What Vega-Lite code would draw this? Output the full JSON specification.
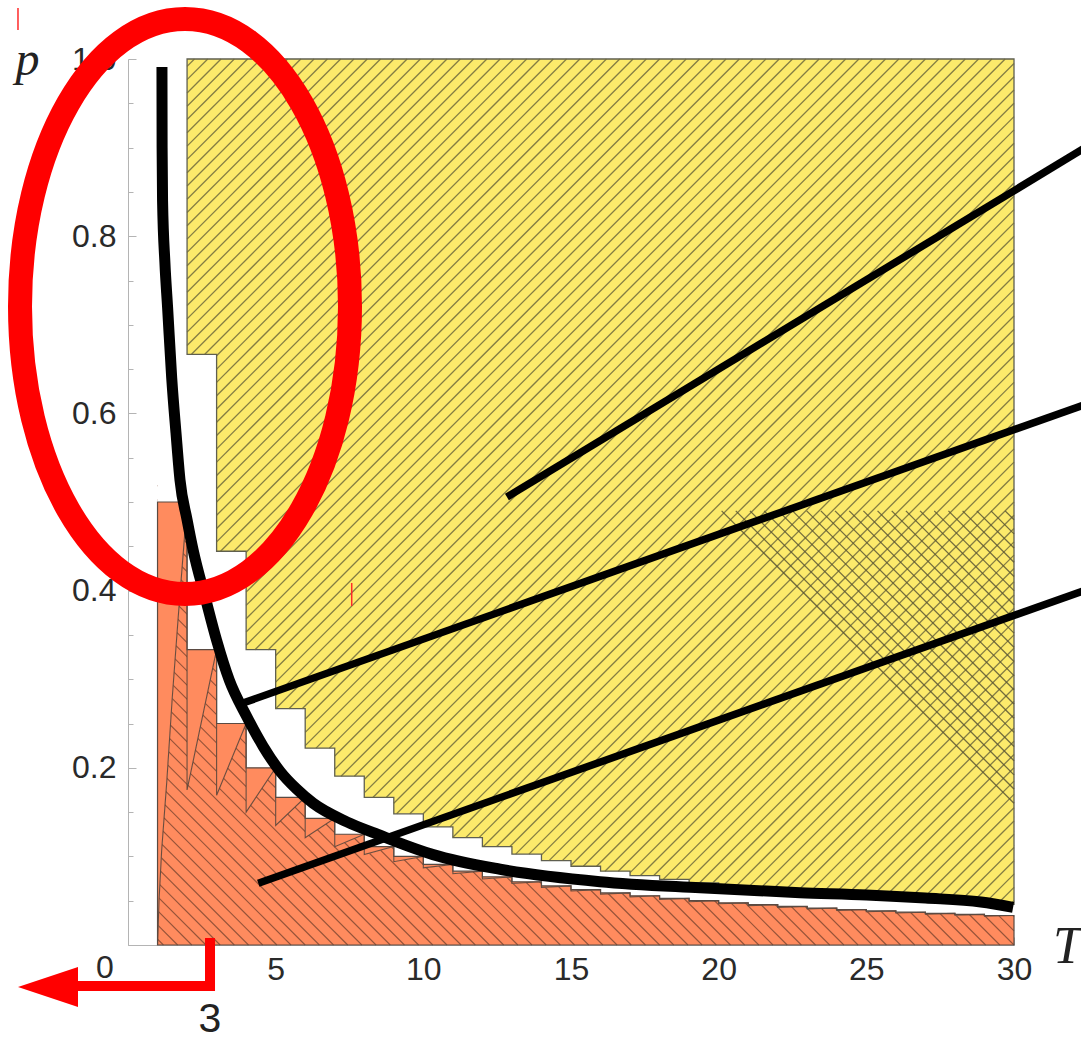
{
  "$schema": "https://vega.github.io/schema/vega-lite/v6.json",
  "width": 886,
  "height": 886,
  "autosize": {"type": "none"},
  "padding": {"left": 128, "top": 59, "right": 67, "bottom": 97},
  "background": "white",
  "config": {"view": {"stroke": null}},
  "datasets": {
    "orangeSteps": [
      {"T": 1, "p": 0.5}, {"T": 2, "p": 0.3333}, {"T": 3, "p": 0.25}, {"T": 4, "p": 0.2}, {"T": 5, "p": 0.1667},
      {"T": 6, "p": 0.1429}, {"T": 7, "p": 0.125}, {"T": 8, "p": 0.1111}, {"T": 9, "p": 0.1}, {"T": 10, "p": 0.0909},
      {"T": 11, "p": 0.0833}, {"T": 12, "p": 0.0769}, {"T": 13, "p": 0.0714}, {"T": 14, "p": 0.0667}, {"T": 15, "p": 0.0625},
      {"T": 16, "p": 0.0588}, {"T": 17, "p": 0.0556}, {"T": 18, "p": 0.0526}, {"T": 19, "p": 0.05}, {"T": 20, "p": 0.0476},
      {"T": 21, "p": 0.0455}, {"T": 22, "p": 0.0435}, {"T": 23, "p": 0.0417}, {"T": 24, "p": 0.04}, {"T": 25, "p": 0.0385},
      {"T": 26, "p": 0.037}, {"T": 27, "p": 0.0357}, {"T": 28, "p": 0.0345}, {"T": 29, "p": 0.0333}, {"T": 30, "p": 0.0333}
    ],
    "saw": [
      {"T": 1, "p": 0, "p2": 0.5}, {"T": 1.05, "p": 0.05, "p2": 0.5}, {"T": 1.14, "p": 0.107, "p2": 0.5},
      {"T": 1.31, "p": 0.183, "p2": 0.5}, {"T": 1.5, "p": 0.28, "p2": 0.5}, {"T": 1.7, "p": 0.37, "p2": 0.5},
      {"T": 1.93, "p": 0.468, "p2": 0.5}, {"T": 2, "p": 0.5, "p2": 0.5},
      {"T": 2, "p": 0.175, "p2": 0.3333}, {"T": 3, "p": 0.3333, "p2": 0.3333},
      {"T": 3, "p": 0.169, "p2": 0.25}, {"T": 4, "p": 0.25, "p2": 0.25},
      {"T": 4, "p": 0.15, "p2": 0.2}, {"T": 5, "p": 0.2, "p2": 0.2},
      {"T": 5, "p": 0.135, "p2": 0.1667}, {"T": 6, "p": 0.1667, "p2": 0.1667},
      {"T": 6, "p": 0.121, "p2": 0.1429}, {"T": 7, "p": 0.1429, "p2": 0.1429},
      {"T": 7, "p": 0.111, "p2": 0.125}, {"T": 8, "p": 0.125, "p2": 0.125},
      {"T": 8, "p": 0.102, "p2": 0.1111}, {"T": 9, "p": 0.1111, "p2": 0.1111},
      {"T": 9, "p": 0.094, "p2": 0.1}, {"T": 10, "p": 0.1, "p2": 0.1},
      {"T": 10, "p": 0.087, "p2": 0.0909}, {"T": 11, "p": 0.0909, "p2": 0.0909},
      {"T": 11, "p": 0.0805, "p2": 0.0833}, {"T": 12, "p": 0.0833, "p2": 0.0833},
      {"T": 12, "p": 0.0745, "p2": 0.0769}, {"T": 13, "p": 0.0769, "p2": 0.0769},
      {"T": 13, "p": 0.0695, "p2": 0.0714}, {"T": 14, "p": 0.0714, "p2": 0.0714},
      {"T": 14, "p": 0.065, "p2": 0.0667}, {"T": 15, "p": 0.0667, "p2": 0.0667},
      {"T": 15, "p": 0.061, "p2": 0.0625}, {"T": 16, "p": 0.0625, "p2": 0.0625},
      {"T": 16, "p": 0.0575, "p2": 0.0588}, {"T": 17, "p": 0.0588, "p2": 0.0588},
      {"T": 17, "p": 0.0543, "p2": 0.0556}, {"T": 18, "p": 0.0556, "p2": 0.0556},
      {"T": 18, "p": 0.0514, "p2": 0.0526}, {"T": 19, "p": 0.0526, "p2": 0.0526},
      {"T": 19, "p": 0.0489, "p2": 0.05}, {"T": 20, "p": 0.05, "p2": 0.05},
      {"T": 20, "p": 0.0466, "p2": 0.0476}, {"T": 21, "p": 0.0476, "p2": 0.0476},
      {"T": 21, "p": 0.0445, "p2": 0.0455}, {"T": 22, "p": 0.0455, "p2": 0.0455},
      {"T": 22, "p": 0.0425, "p2": 0.0435}, {"T": 23, "p": 0.0435, "p2": 0.0435},
      {"T": 23, "p": 0.0408, "p2": 0.0417}, {"T": 24, "p": 0.0417, "p2": 0.0417},
      {"T": 24, "p": 0.0391, "p2": 0.04}, {"T": 25, "p": 0.04, "p2": 0.04},
      {"T": 25, "p": 0.0376, "p2": 0.0385}, {"T": 26, "p": 0.0385, "p2": 0.0385},
      {"T": 26, "p": 0.0362, "p2": 0.037}, {"T": 27, "p": 0.037, "p2": 0.037},
      {"T": 27, "p": 0.0349, "p2": 0.0357}, {"T": 28, "p": 0.0357, "p2": 0.0357},
      {"T": 28, "p": 0.0337, "p2": 0.0345}, {"T": 29, "p": 0.0345, "p2": 0.0345},
      {"T": 29, "p": 0.0326, "p2": 0.0333}, {"T": 30, "p": 0.0333, "p2": 0.0333}
    ],
    "orangeHatch": [
      {"T": 1, "p": 0.0067, "T2": 1.2, "p2": 0}, {"T": 1, "p": 0.0227, "T2": 1.68, "p2": 0},
      {"T": 1, "p": 0.0387, "T2": 2.16, "p2": 0}, {"T": 1, "p": 0.0547, "T2": 2.64, "p2": 0},
      {"T": 1, "p": 0.0707, "T2": 3.12, "p2": 0}, {"T": 1, "p": 0.0867, "T2": 3.6, "p2": 0},
      {"T": 1, "p": 0.1027, "T2": 4.08, "p2": 0}, {"T": 1, "p": 0.1187, "T2": 4.56, "p2": 0},
      {"T": 1, "p": 0.1347, "T2": 5.04, "p2": 0}, {"T": 1, "p": 0.1507, "T2": 5.52, "p2": 0},
      {"T": 1, "p": 0.1667, "T2": 6, "p2": 0}, {"T": 1, "p": 0.1827, "T2": 6.48, "p2": 0},
      {"T": 1, "p": 0.1987, "T2": 6.96, "p2": 0}, {"T": 1, "p": 0.2147, "T2": 7.44, "p2": 0},
      {"T": 1, "p": 0.2307, "T2": 7.92, "p2": 0}, {"T": 1, "p": 0.2467, "T2": 8.4, "p2": 0},
      {"T": 1, "p": 0.2627, "T2": 8.88, "p2": 0}, {"T": 1, "p": 0.2787, "T2": 9.36, "p2": 0},
      {"T": 1, "p": 0.2947, "T2": 9.84, "p2": 0}, {"T": 1, "p": 0.3107, "T2": 10.32, "p2": 0},
      {"T": 1, "p": 0.3267, "T2": 10.8, "p2": 0}, {"T": 1, "p": 0.3427, "T2": 11.28, "p2": 0},
      {"T": 1, "p": 0.3587, "T2": 11.76, "p2": 0}, {"T": 1, "p": 0.3747, "T2": 12.24, "p2": 0},
      {"T": 1, "p": 0.3907, "T2": 12.72, "p2": 0}, {"T": 1, "p": 0.4067, "T2": 13.2, "p2": 0},
      {"T": 1, "p": 0.4227, "T2": 13.68, "p2": 0}, {"T": 1, "p": 0.4387, "T2": 14.16, "p2": 0},
      {"T": 1, "p": 0.4547, "T2": 14.64, "p2": 0}, {"T": 1, "p": 0.4707, "T2": 15.12, "p2": 0},
      {"T": 1, "p": 0.4867, "T2": 15.6, "p2": 0}, {"T": 1, "p": 0.5027, "T2": 16.08, "p2": 0},
      {"T": 1, "p": 0.5187, "T2": 16.56, "p2": 0}, {"T": 1.44, "p": 0.52, "T2": 17.04, "p2": 0},
      {"T": 1.92, "p": 0.52, "T2": 17.52, "p2": 0}, {"T": 2.4, "p": 0.52, "T2": 18, "p2": 0},
      {"T": 2.88, "p": 0.52, "T2": 18.48, "p2": 0}, {"T": 3.36, "p": 0.52, "T2": 18.96, "p2": 0},
      {"T": 3.84, "p": 0.52, "T2": 19.44, "p2": 0}, {"T": 4.32, "p": 0.52, "T2": 19.92, "p2": 0},
      {"T": 4.8, "p": 0.52, "T2": 20.4, "p2": 0}, {"T": 5.28, "p": 0.52, "T2": 20.88, "p2": 0},
      {"T": 5.76, "p": 0.52, "T2": 21.36, "p2": 0}, {"T": 6.24, "p": 0.52, "T2": 21.84, "p2": 0},
      {"T": 6.72, "p": 0.52, "T2": 22.32, "p2": 0}, {"T": 7.2, "p": 0.52, "T2": 22.8, "p2": 0},
      {"T": 7.68, "p": 0.52, "T2": 23.28, "p2": 0}, {"T": 8.16, "p": 0.52, "T2": 23.76, "p2": 0},
      {"T": 8.64, "p": 0.52, "T2": 24.24, "p2": 0}, {"T": 9.12, "p": 0.52, "T2": 24.72, "p2": 0},
      {"T": 9.6, "p": 0.52, "T2": 25.2, "p2": 0}, {"T": 10.08, "p": 0.52, "T2": 25.68, "p2": 0},
      {"T": 10.56, "p": 0.52, "T2": 26.16, "p2": 0}, {"T": 11.04, "p": 0.52, "T2": 26.64, "p2": 0},
      {"T": 11.52, "p": 0.52, "T2": 27.12, "p2": 0}, {"T": 12, "p": 0.52, "T2": 27.6, "p2": 0},
      {"T": 12.48, "p": 0.52, "T2": 28.08, "p2": 0}, {"T": 12.96, "p": 0.52, "T2": 28.56, "p2": 0},
      {"T": 13.44, "p": 0.52, "T2": 29.04, "p2": 0}, {"T": 13.92, "p": 0.52, "T2": 29.52, "p2": 0},
      {"T": 14.4, "p": 0.52, "T2": 30, "p2": 0}, {"T": 14.88, "p": 0.52, "T2": 30, "p2": 0.016},
      {"T": 15.36, "p": 0.52, "T2": 30, "p2": 0.032}, {"T": 15.84, "p": 0.52, "T2": 30, "p2": 0.048},
      {"T": 16.32, "p": 0.52, "T2": 30, "p2": 0.064}, {"T": 16.8, "p": 0.52, "T2": 30, "p2": 0.08},
      {"T": 17.28, "p": 0.52, "T2": 30, "p2": 0.096}, {"T": 17.76, "p": 0.52, "T2": 30, "p2": 0.112},
      {"T": 18.24, "p": 0.52, "T2": 30, "p2": 0.128}, {"T": 18.72, "p": 0.52, "T2": 30, "p2": 0.144},
      {"T": 19.2, "p": 0.52, "T2": 30, "p2": 0.16}, {"T": 19.68, "p": 0.52, "T2": 30, "p2": 0.176},
      {"T": 20.16, "p": 0.52, "T2": 30, "p2": 0.192}, {"T": 20.64, "p": 0.52, "T2": 30, "p2": 0.208},
      {"T": 21.12, "p": 0.52, "T2": 30, "p2": 0.224}, {"T": 21.6, "p": 0.52, "T2": 30, "p2": 0.24},
      {"T": 22.08, "p": 0.52, "T2": 30, "p2": 0.256}, {"T": 22.56, "p": 0.52, "T2": 30, "p2": 0.272},
      {"T": 23.04, "p": 0.52, "T2": 30, "p2": 0.288}, {"T": 23.52, "p": 0.52, "T2": 30, "p2": 0.304},
      {"T": 24, "p": 0.52, "T2": 30, "p2": 0.32}, {"T": 24.48, "p": 0.52, "T2": 30, "p2": 0.336},
      {"T": 24.96, "p": 0.52, "T2": 30, "p2": 0.352}, {"T": 25.44, "p": 0.52, "T2": 30, "p2": 0.368},
      {"T": 25.92, "p": 0.52, "T2": 30, "p2": 0.384}, {"T": 26.4, "p": 0.52, "T2": 30, "p2": 0.4},
      {"T": 26.88, "p": 0.52, "T2": 30, "p2": 0.416}, {"T": 27.36, "p": 0.52, "T2": 30, "p2": 0.432},
      {"T": 27.84, "p": 0.52, "T2": 30, "p2": 0.448}, {"T": 28.32, "p": 0.52, "T2": 30, "p2": 0.464},
      {"T": 28.8, "p": 0.52, "T2": 30, "p2": 0.48}, {"T": 29.28, "p": 0.52, "T2": 30, "p2": 0.496},
      {"T": 29.76, "p": 0.52, "T2": 30, "p2": 0.512}
    ],
    "yellowSteps": [
      {"T": 2, "p": 0.6667}, {"T": 3, "p": 0.4444}, {"T": 4, "p": 0.3333}, {"T": 5, "p": 0.2667}, {"T": 6, "p": 0.2222},
      {"T": 7, "p": 0.1905}, {"T": 8, "p": 0.1667}, {"T": 9, "p": 0.1481}, {"T": 10, "p": 0.1333}, {"T": 11, "p": 0.1212},
      {"T": 12, "p": 0.1111}, {"T": 13, "p": 0.1026}, {"T": 14, "p": 0.0952}, {"T": 15, "p": 0.0889}, {"T": 16, "p": 0.0833},
      {"T": 17, "p": 0.0784}, {"T": 18, "p": 0.0741}, {"T": 19, "p": 0.0702}, {"T": 20, "p": 0.0667}, {"T": 21, "p": 0.0635},
      {"T": 22, "p": 0.0606}, {"T": 23, "p": 0.058}, {"T": 24, "p": 0.0556}, {"T": 25, "p": 0.0533}, {"T": 26, "p": 0.0513},
      {"T": 27, "p": 0.0494}, {"T": 28, "p": 0.0476}, {"T": 29, "p": 0.046}, {"T": 30, "p": 0.046}
    ],
    "yellowHatch": [
      {"T": 2, "p": 0.9917, "T2": 2.25, "p2": 1}, {"T": 2, "p": 0.9767, "T2": 2.7, "p2": 1},
      {"T": 2, "p": 0.9617, "T2": 3.15, "p2": 1}, {"T": 2, "p": 0.9467, "T2": 3.6, "p2": 1},
      {"T": 2, "p": 0.9317, "T2": 4.05, "p2": 1}, {"T": 2, "p": 0.9167, "T2": 4.5, "p2": 1},
      {"T": 2, "p": 0.9017, "T2": 4.95, "p2": 1}, {"T": 2, "p": 0.8867, "T2": 5.4, "p2": 1},
      {"T": 2, "p": 0.8717, "T2": 5.85, "p2": 1}, {"T": 2, "p": 0.8567, "T2": 6.3, "p2": 1},
      {"T": 2, "p": 0.8417, "T2": 6.75, "p2": 1}, {"T": 2, "p": 0.8267, "T2": 7.2, "p2": 1},
      {"T": 2, "p": 0.8117, "T2": 7.65, "p2": 1}, {"T": 2, "p": 0.7967, "T2": 8.1, "p2": 1},
      {"T": 2, "p": 0.7817, "T2": 8.55, "p2": 1}, {"T": 2, "p": 0.7667, "T2": 9, "p2": 1},
      {"T": 2, "p": 0.7517, "T2": 9.45, "p2": 1}, {"T": 2, "p": 0.7367, "T2": 9.9, "p2": 1},
      {"T": 2, "p": 0.7217, "T2": 10.35, "p2": 1}, {"T": 2, "p": 0.7067, "T2": 10.8, "p2": 1},
      {"T": 2, "p": 0.6917, "T2": 11.25, "p2": 1}, {"T": 2, "p": 0.6767, "T2": 11.7, "p2": 1},
      {"T": 2.15, "p": 0.6667, "T2": 12.15, "p2": 1}, {"T": 2.6, "p": 0.6667, "T2": 12.6, "p2": 1},
      {"T": 3, "p": 0.665, "T2": 13.05, "p2": 1}, {"T": 3, "p": 0.65, "T2": 13.5, "p2": 1},
      {"T": 3, "p": 0.635, "T2": 13.95, "p2": 1}, {"T": 3, "p": 0.62, "T2": 14.4, "p2": 1},
      {"T": 3, "p": 0.605, "T2": 14.85, "p2": 1}, {"T": 3, "p": 0.59, "T2": 15.3, "p2": 1},
      {"T": 3, "p": 0.575, "T2": 15.75, "p2": 1}, {"T": 3, "p": 0.56, "T2": 16.2, "p2": 1},
      {"T": 3, "p": 0.545, "T2": 16.65, "p2": 1}, {"T": 3, "p": 0.53, "T2": 17.1, "p2": 1},
      {"T": 3, "p": 0.515, "T2": 17.55, "p2": 1}, {"T": 3, "p": 0.5, "T2": 18, "p2": 1},
      {"T": 3, "p": 0.485, "T2": 18.45, "p2": 1}, {"T": 3, "p": 0.47, "T2": 18.9, "p2": 1},
      {"T": 3, "p": 0.455, "T2": 19.35, "p2": 1}, {"T": 3.133, "p": 0.4444, "T2": 19.8, "p2": 1},
      {"T": 3.583, "p": 0.4444, "T2": 20.25, "p2": 1}, {"T": 4, "p": 0.4433, "T2": 20.7, "p2": 1},
      {"T": 4, "p": 0.4283, "T2": 21.15, "p2": 1}, {"T": 4, "p": 0.4133, "T2": 21.6, "p2": 1},
      {"T": 4, "p": 0.3983, "T2": 22.05, "p2": 1}, {"T": 4, "p": 0.3833, "T2": 22.5, "p2": 1},
      {"T": 4, "p": 0.3683, "T2": 22.95, "p2": 1}, {"T": 4, "p": 0.3533, "T2": 23.4, "p2": 1},
      {"T": 4, "p": 0.3383, "T2": 23.85, "p2": 1}, {"T": 4.3, "p": 0.3333, "T2": 24.3, "p2": 1},
      {"T": 4.75, "p": 0.3333, "T2": 24.75, "p2": 1}, {"T": 5, "p": 0.3267, "T2": 25.2, "p2": 1},
      {"T": 5, "p": 0.3117, "T2": 25.65, "p2": 1}, {"T": 5, "p": 0.2967, "T2": 26.1, "p2": 1},
      {"T": 5, "p": 0.2817, "T2": 26.55, "p2": 1}, {"T": 5, "p": 0.2667, "T2": 27, "p2": 1},
      {"T": 5.45, "p": 0.2667, "T2": 27.45, "p2": 1}, {"T": 5.9, "p": 0.2667, "T2": 27.9, "p2": 1},
      {"T": 6, "p": 0.255, "T2": 28.35, "p2": 1}, {"T": 6, "p": 0.24, "T2": 28.8, "p2": 1},
      {"T": 6, "p": 0.225, "T2": 29.25, "p2": 1}, {"T": 6.367, "p": 0.2222, "T2": 29.7, "p2": 1},
      {"T": 6.817, "p": 0.2222, "T2": 30, "p2": 0.995}, {"T": 7, "p": 0.2133, "T2": 30, "p2": 0.98},
      {"T": 7, "p": 0.1983, "T2": 30, "p2": 0.965}, {"T": 7.214, "p": 0.1905, "T2": 30, "p2": 0.95},
      {"T": 7.664, "p": 0.1905, "T2": 30, "p2": 0.935}, {"T": 8, "p": 0.1867, "T2": 30, "p2": 0.92},
      {"T": 8, "p": 0.1717, "T2": 30, "p2": 0.905}, {"T": 8.3, "p": 0.1667, "T2": 30, "p2": 0.89},
      {"T": 8.75, "p": 0.1667, "T2": 30, "p2": 0.875}, {"T": 9, "p": 0.16, "T2": 30, "p2": 0.86},
      {"T": 9.094, "p": 0.1481, "T2": 30, "p2": 0.845}, {"T": 9.544, "p": 0.1481, "T2": 30, "p2": 0.83},
      {"T": 9.994, "p": 0.1481, "T2": 30, "p2": 0.815}, {"T": 10, "p": 0.1333, "T2": 30, "p2": 0.8},
      {"T": 10.45, "p": 0.1333, "T2": 30, "p2": 0.785}, {"T": 10.9, "p": 0.1333, "T2": 30, "p2": 0.77},
      {"T": 11, "p": 0.1217, "T2": 30, "p2": 0.755}, {"T": 11.436, "p": 0.1212, "T2": 30, "p2": 0.74},
      {"T": 11.886, "p": 0.1212, "T2": 30, "p2": 0.725}, {"T": 12.033, "p": 0.1111, "T2": 30, "p2": 0.71},
      {"T": 12.483, "p": 0.1111, "T2": 30, "p2": 0.695}, {"T": 12.933, "p": 0.1111, "T2": 30, "p2": 0.68},
      {"T": 13.127, "p": 0.1026, "T2": 30, "p2": 0.665}, {"T": 13.577, "p": 0.1026, "T2": 30, "p2": 0.65},
      {"T": 14, "p": 0.1017, "T2": 30, "p2": 0.635}, {"T": 14.257, "p": 0.0952, "T2": 30, "p2": 0.62},
      {"T": 14.707, "p": 0.0952, "T2": 30, "p2": 0.605}, {"T": 15, "p": 0.09, "T2": 30, "p2": 0.59},
      {"T": 15.417, "p": 0.0889, "T2": 30, "p2": 0.575}, {"T": 15.867, "p": 0.0889, "T2": 30, "p2": 0.56},
      {"T": 16.15, "p": 0.0833, "T2": 30, "p2": 0.545}, {"T": 16.6, "p": 0.0833, "T2": 30, "p2": 0.53},
      {"T": 17, "p": 0.0817, "T2": 30, "p2": 0.515}, {"T": 17.353, "p": 0.0784, "T2": 30, "p2": 0.5},
      {"T": 17.803, "p": 0.0784, "T2": 30, "p2": 0.485}, {"T": 18.122, "p": 0.0741, "T2": 30, "p2": 0.47},
      {"T": 18.572, "p": 0.0741, "T2": 30, "p2": 0.455}, {"T": 19, "p": 0.0733, "T2": 30, "p2": 0.44},
      {"T": 19.355, "p": 0.0702, "T2": 30, "p2": 0.425}, {"T": 19.805, "p": 0.0702, "T2": 30, "p2": 0.41},
      {"T": 20.15, "p": 0.0667, "T2": 30, "p2": 0.395}, {"T": 20.6, "p": 0.0667, "T2": 30, "p2": 0.38},
      {"T": 21, "p": 0.065, "T2": 30, "p2": 0.365}, {"T": 21.405, "p": 0.0635, "T2": 30, "p2": 0.35},
      {"T": 21.855, "p": 0.0635, "T2": 30, "p2": 0.335}, {"T": 22.218, "p": 0.0606, "T2": 30, "p2": 0.32},
      {"T": 22.668, "p": 0.0606, "T2": 30, "p2": 0.305}, {"T": 23.039, "p": 0.058, "T2": 30, "p2": 0.29},
      {"T": 23.489, "p": 0.058, "T2": 30, "p2": 0.275}, {"T": 23.939, "p": 0.058, "T2": 30, "p2": 0.26},
      {"T": 24.317, "p": 0.0556, "T2": 30, "p2": 0.245}, {"T": 24.767, "p": 0.0556, "T2": 30, "p2": 0.23},
      {"T": 25.15, "p": 0.0533, "T2": 30, "p2": 0.215}, {"T": 25.6, "p": 0.0533, "T2": 30, "p2": 0.2},
      {"T": 26, "p": 0.0517, "T2": 30, "p2": 0.185}, {"T": 26.438, "p": 0.0513, "T2": 30, "p2": 0.17},
      {"T": 26.888, "p": 0.0513, "T2": 30, "p2": 0.155}, {"T": 27.281, "p": 0.0494, "T2": 30, "p2": 0.14},
      {"T": 27.731, "p": 0.0494, "T2": 30, "p2": 0.125}, {"T": 28.129, "p": 0.0476, "T2": 30, "p2": 0.11},
      {"T": 28.579, "p": 0.0476, "T2": 30, "p2": 0.095}, {"T": 29, "p": 0.0467, "T2": 30, "p2": 0.08},
      {"T": 29.429, "p": 0.046, "T2": 30, "p2": 0.065}, {"T": 29.879, "p": 0.046, "T2": 30, "p2": 0.05}
    ],
    "crossHatch": [
      {"T": 20.1, "p": 0.49, "T2": 30, "p2": 0.16}, {"T": 20.58, "p": 0.49, "T2": 30, "p2": 0.176},
      {"T": 21.06, "p": 0.49, "T2": 30, "p2": 0.192}, {"T": 21.54, "p": 0.49, "T2": 30, "p2": 0.208},
      {"T": 22.02, "p": 0.49, "T2": 30, "p2": 0.224}, {"T": 22.5, "p": 0.49, "T2": 30, "p2": 0.24},
      {"T": 22.98, "p": 0.49, "T2": 30, "p2": 0.256}, {"T": 23.46, "p": 0.49, "T2": 30, "p2": 0.272},
      {"T": 23.94, "p": 0.49, "T2": 30, "p2": 0.288}, {"T": 24.42, "p": 0.49, "T2": 30, "p2": 0.304},
      {"T": 24.9, "p": 0.49, "T2": 30, "p2": 0.32}, {"T": 25.38, "p": 0.49, "T2": 30, "p2": 0.336},
      {"T": 25.86, "p": 0.49, "T2": 30, "p2": 0.352}, {"T": 26.34, "p": 0.49, "T2": 30, "p2": 0.368},
      {"T": 26.82, "p": 0.49, "T2": 30, "p2": 0.384}, {"T": 27.3, "p": 0.49, "T2": 30, "p2": 0.4},
      {"T": 27.78, "p": 0.49, "T2": 30, "p2": 0.416}, {"T": 28.26, "p": 0.49, "T2": 30, "p2": 0.432},
      {"T": 28.74, "p": 0.49, "T2": 30, "p2": 0.448}, {"T": 29.22, "p": 0.49, "T2": 30, "p2": 0.464},
      {"T": 29.7, "p": 0.49, "T2": 30, "p2": 0.48}
    ],
    "boundary": [
      {"T": 1.15, "p": 0.991}, {"T": 1.155, "p": 0.9}, {"T": 1.17, "p": 0.84}, {"T": 1.25, "p": 0.77},
      {"T": 1.34, "p": 0.72}, {"T": 1.48, "p": 0.64}, {"T": 1.625, "p": 0.578}, {"T": 1.76, "p": 0.525},
      {"T": 2.0, "p": 0.48}, {"T": 2.21, "p": 0.445}, {"T": 2.61, "p": 0.393}, {"T": 3.0, "p": 0.344},
      {"T": 3.43, "p": 0.299}, {"T": 4.02, "p": 0.258}, {"T": 4.58, "p": 0.224}, {"T": 5.15, "p": 0.196},
      {"T": 5.71, "p": 0.176}, {"T": 6.27, "p": 0.16}, {"T": 7.41, "p": 0.139}, {"T": 8.53, "p": 0.124},
      {"T": 9.21, "p": 0.115}, {"T": 10.33, "p": 0.102}, {"T": 12.6, "p": 0.0855}, {"T": 15.98, "p": 0.0715},
      {"T": 19.37, "p": 0.0645}, {"T": 22.76, "p": 0.059}, {"T": 25.0, "p": 0.0565}, {"T": 27.0, "p": 0.053},
      {"T": 28.88, "p": 0.0485}, {"T": 29.97, "p": 0.0425}
    ],
    "pointers": [
      {"T": 12.83, "p": 0.5056, "T2": 32.6, "p2": 0.9037},
      {"T": 3.894, "p": 0.2731, "T2": 32.6, "p2": 0.6123},
      {"T": 4.412, "p": 0.0696, "T2": 32.6, "p2": 0.4027}
    ],
    "ring": [{"T": 1.93, "p": 0.7207}],
    "arrow": [
      {"i": 0, "T": 2.777, "p": 0.0079},
      {"i": 1, "T": 2.777, "p": -0.0463},
      {"i": 2, "T": -1.693, "p": -0.0463}
    ],
    "arrowHead": [{"T": -2.709, "p": -0.0474}],
    "notes": [{"T": 2.777, "p": -0.0847, "label": "3"}],
    "origin": [{"T": -0.779, "p": -0.026, "label": "0"}],
    "redMarks": [
      {"T": -3.725, "p": 1.0576, "p2": 1.0327},
      {"T": 7.575, "p": 0.4086, "p2": 0.3826}
    ]
  },
  "encoding": {
    "x": {
      "field": "T",
      "type": "quantitative",
      "scale": {"domain": [0, 30], "nice": false, "zero": false},
      "axis": {
        "values": [0,1,2,3,4,5,6,7,8,9,10,11,12,13,14,15,16,17,18,19,20,21,22,23,24,25,26,27,28,29,30],
        "labelExpr": "datum.value % 5 === 0 && datum.value > 0 ? datum.label : ''",
        "tickSize": {"condition": {"test": "datum.value % 5 === 0", "value": -8}, "value": -5},
        "labelPadding": 17,
        "labelFlush": false,
        "labelOverlap": false,
        "grid": false,
        "domainColor": "#b4b4b4",
        "tickColor": "#b4b4b4",
        "labelFont": "Liberation Sans",
        "labelFontSize": 32,
        "labelColor": "#2a2a2a",
        "title": "T",
        "titleFont": "Liberation Serif",
        "titleFontStyle": "italic",
        "titleFontWeight": "normal",
        "titleFontSize": 52,
        "titleColor": "#222222",
        "titleX": 939,
        "titleY": 17,
        "titleAlign": "center",
        "titleBaseline": "alphabetic"
      }
    },
    "y": {
      "field": "p",
      "type": "quantitative",
      "scale": {"domain": [0, 1], "nice": false, "zero": false},
      "axis": {
        "values": [0,0.05,0.1,0.15,0.2,0.25,0.3,0.35,0.4,0.45,0.5,0.55,0.6,0.65,0.7,0.75,0.8,0.85,0.9,0.95,1],
        "labelExpr": "datum.value > 0.1 && abs(datum.value * 5 - round(datum.value * 5)) < 0.001 ? format(datum.value, '.1f') : ''",
        "tickSize": {"condition": {"test": "abs(datum.value * 5 - round(datum.value * 5)) < 0.001", "value": -8}, "value": -5},
        "labelPadding": 20,
        "labelFlush": false,
        "labelOverlap": false,
        "grid": false,
        "domainColor": "#b4b4b4",
        "tickColor": "#b4b4b4",
        "labelFont": "Liberation Sans",
        "labelFontSize": 32,
        "labelColor": "#2a2a2a",
        "title": "p",
        "titleAngle": 0,
        "titleFont": "Liberation Serif",
        "titleFontStyle": "italic",
        "titleFontWeight": "normal",
        "titleFontSize": 48,
        "titleColor": "#222222",
        "titleX": -101,
        "titleY": 15,
        "titleAlign": "center",
        "titleBaseline": "alphabetic"
      }
    }
  },
  "layer": [
    {
      "data": {"name": "orangeSteps"},
      "mark": {"type": "area", "interpolate": "step-after", "color": "#ff8b5e", "opacity": 1},
      "encoding": {"y2": {"datum": 0}}
    },
    {
      "data": {"name": "orangeHatch"},
      "mark": {"type": "rule", "color": "#7a4530", "strokeWidth": 1.1, "opacity": 0.8},
      "encoding": {"x2": {"field": "T2"}, "y2": {"field": "p2"}}
    },
    {
      "data": {"name": "saw"},
      "mark": {"type": "area", "color": "#ffffff", "opacity": 1},
      "encoding": {"y2": {"datum": 0.53}}
    },
    {
      "data": {"name": "saw"},
      "mark": {"type": "area", "color": "#ff8b5e", "opacity": 1},
      "encoding": {"y2": {"field": "p2"}}
    },
    {
      "data": {"name": "saw"},
      "mark": {"type": "line", "color": "#5a4236", "strokeWidth": 1.1, "opacity": 0.9},
      "encoding": {}
    },
    {
      "data": {"name": "orangeSteps"},
      "mark": {"type": "area", "interpolate": "step-after", "fillOpacity": 0, "stroke": "#5a4a42", "strokeWidth": 1.2},
      "encoding": {"y2": {"datum": 0}}
    },
    {
      "data": {"name": "yellowSteps"},
      "mark": {"type": "area", "interpolate": "step-after", "color": "#fcea6b", "opacity": 1, "stroke": "#5f5f50", "strokeWidth": 1.3},
      "encoding": {"y2": {"datum": 1}}
    },
    {
      "data": {"name": "yellowHatch"},
      "mark": {"type": "rule", "color": "#6e6a3c", "strokeWidth": 1.3, "opacity": 0.85},
      "encoding": {"x2": {"field": "T2"}, "y2": {"field": "p2"}}
    },
    {
      "data": {"name": "crossHatch"},
      "mark": {"type": "rule", "color": "#5a5634", "strokeWidth": 1.3, "opacity": 0.85},
      "encoding": {"x2": {"field": "T2"}, "y2": {"field": "p2"}}
    },
    {
      "data": {"name": "boundary"},
      "mark": {"type": "line", "interpolate": "monotone", "color": "#000000", "strokeWidth": 11, "strokeCap": "butt"},
      "encoding": {}
    },
    {
      "data": {"name": "pointers"},
      "mark": {"type": "rule", "color": "#000000", "strokeWidth": 7.5, "strokeCap": "butt"},
      "encoding": {"x2": {"field": "T2"}, "y2": {"field": "p2"}}
    },
    {
      "data": {"name": "ring"},
      "mark": {
        "type": "point",
        "shape": "M-0.5739,0C-0.5739,-0.5523,-0.317,-1,0,-1C0.317,-1,0.5739,-0.5523,0.5739,0C0.5739,0.5523,0.317,1,0,1C-0.317,1,-0.5739,0.5523,-0.5739,0Z",
        "size": 330625,
        "filled": false,
        "stroke": "#ff0000",
        "strokeWidth": 24,
        "opacity": 1
      },
      "encoding": {}
    },
    {
      "data": {"name": "arrow"},
      "mark": {"type": "line", "color": "#ff0000", "strokeWidth": 10, "strokeCap": "butt", "strokeJoin": "miter"},
      "encoding": {"order": {"field": "i", "type": "quantitative"}}
    },
    {
      "data": {"name": "arrowHead"},
      "mark": {"type": "point", "shape": "M-1,0L1,-0.667L1,0.667Z", "size": 3600, "filled": true, "fill": "#ff0000", "strokeWidth": 0, "opacity": 1},
      "encoding": {}
    },
    {
      "data": {"name": "notes"},
      "mark": {"type": "text", "font": "Liberation Sans", "fontSize": 41, "color": "#222222", "align": "center", "baseline": "middle"},
      "encoding": {"text": {"field": "label"}}
    },
    {
      "data": {"name": "origin"},
      "mark": {"type": "text", "font": "Liberation Sans", "fontSize": 32, "color": "#2a2a2a", "align": "center", "baseline": "middle"},
      "encoding": {"text": {"field": "label"}}
    },
    {
      "data": {"name": "redMarks"},
      "mark": {"type": "rule", "color": "#ff2a2a", "strokeWidth": 1.5},
      "encoding": {"y2": {"field": "p2"}}
    }
  ]
}
